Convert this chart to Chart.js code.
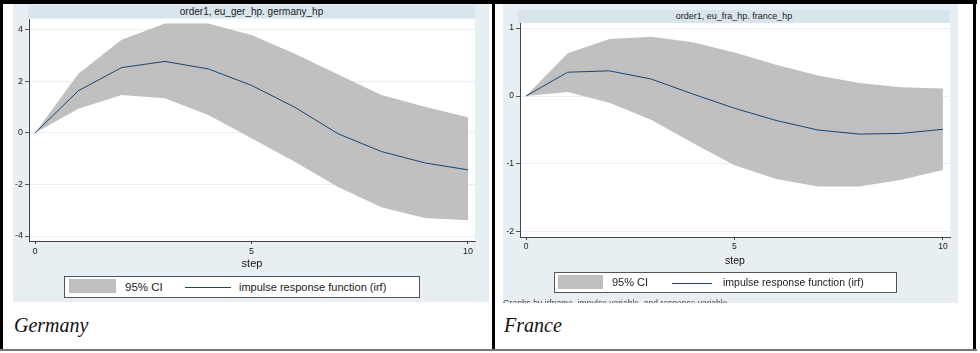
<!DOCTYPE html>
<html>
<head>
<meta charset="utf-8">
<script src="https://cdn.jsdelivr.net/npm/chart.js@4.4.0/dist/chart.umd.min.js"></script>
<style>
  html, body { margin: 0; padding: 0; background: #fff; }
  body { width: 980px; height: 353px; position: relative; overflow: hidden; font-family: Arial, "Liberation Sans", sans-serif; }
  .abs { position: absolute; }
  .bar { background: #000; }
  .panel { background: #e8eff2; }
  .titlebar { background: #d9e5ec; color: #222; text-align: center; white-space: nowrap; }
  .legend { background: #fff; border: 1px solid #555; box-sizing: border-box; }
  .legend span { position: absolute; white-space: nowrap; color: #222; }
  .key { background: #bfbfbf; }
  .keyline { background: #1a476f; height: 1px; }
  .caption { font-family: "Liberation Serif", "DejaVu Serif", serif; font-style: italic; font-size: 20px; color: #111; white-space: nowrap; }
  .note { overflow: hidden; color: #444; font-size: 8.5px; line-height: 10px; white-space: nowrap; }
</style>
</head>
<body>
<!-- table borders -->
<div class="abs bar" style="left:0;top:0;width:977px;height:4px"></div>
<div class="abs bar" style="left:0;top:0;width:3px;height:350px"></div>
<div class="abs bar" style="left:492px;top:0;width:3px;height:350px"></div>
<div class="abs bar" style="left:973px;top:0;width:3px;height:350px"></div>
<div class="abs" style="left:0;top:349px;width:977px;height:2px;background:#777"></div>

<!-- Germany -->
<div class="abs panel" style="left:13px;top:4px;width:476px;height:298px">
  <canvas id="ger" width="476" height="298"></canvas>
</div>
<div class="abs titlebar" style="left:28px;top:5px;width:447px;height:13px;font-size:10px;line-height:13px">order1, eu_ger_hp. germany_hp</div>
<div class="abs legend" style="left:64px;top:276px;width:356px;height:22px">
  <div class="abs key" style="left:4px;top:2px;width:47px;height:14px"></div>
  <span style="left:60px;top:3px;font-size:11.5px;line-height:14px">95% CI</span>
  <div class="abs keyline" style="left:120px;top:10px;width:46px"></div>
  <span style="left:174px;top:3px;font-size:11px;line-height:14px">impulse response function (irf)</span>
</div>
<div class="abs caption" style="left:14px;top:314px">Germany</div>

<!-- France -->
<div class="abs panel" style="left:503px;top:4px;width:455px;height:299px">
  <canvas id="fra" width="455" height="298"></canvas>
</div>
<div class="abs titlebar" style="left:518px;top:10px;width:432px;height:13px;font-size:9px;line-height:13px">order1, eu_fra_hp. france_hp</div>
<div class="abs legend" style="left:554px;top:272px;width:343px;height:21px">
  <div class="abs key" style="left:3px;top:2px;width:45px;height:14px"></div>
  <span style="left:57px;top:3px;font-size:11px;line-height:13px">95% CI</span>
  <div class="abs keyline" style="left:117px;top:10px;width:40px"></div>
  <span style="left:168px;top:3px;font-size:10.5px;line-height:13px">impulse response function (irf)</span>
</div>
<div class="abs note" style="left:503px;top:298px;width:300px;height:5px">Graphs by irfname, impulse variable, and response variable</div>
<div class="abs caption" style="left:504px;top:314px">France</div>

<script>
// steps of the impulse response
const steps = [0, 1, 2, 3, 4, 5, 6, 7, 8, 9, 10];
const xTicks = [0, 5, 10];

// Germany: order1, eu_ger_hp -> germany_hp
const gerIrf = [0, 1.64, 2.54, 2.78, 2.49, 1.85, 1.0, -0.03, -0.72, -1.16, -1.43];
const gerUpper = [0, 2.3, 3.62, 4.25, 4.25, 3.81, 3.08, 2.27, 1.48, 1.02, 0.61];
const gerLower = [0, 0.94, 1.48, 1.35, 0.7, -0.2, -1.12, -2.1, -2.88, -3.3, -3.39];
const gerYTicks = [-4, -2, 0, 2, 4];

// France: order1, eu_fra_hp -> france_hp
const fraIrf = [0, 0.35, 0.37, 0.25, 0.03, -0.18, -0.36, -0.5, -0.56, -0.55, -0.49];
const fraUpper = [0, 0.63, 0.84, 0.87, 0.79, 0.64, 0.46, 0.3, 0.19, 0.13, 0.11];
const fraLower = [0, 0.06, -0.1, -0.35, -0.69, -1.02, -1.22, -1.33, -1.33, -1.23, -1.09];
const fraYTicks = [-2, -1, 0, 1];

const pts = (ys) => steps.map((s, i) => ({ x: s, y: ys[i] }));

// white plot region, like Stata's plotregion
const plotBg = {
  id: 'plotBg',
  beforeDraw(chart) {
    const { ctx, chartArea: a } = chart;
    ctx.save();
    ctx.fillStyle = '#fff';
    ctx.fillRect(a.left, a.top, a.right - a.left, a.bottom - a.top);
    ctx.restore();
  }
};

function irfChart(id, irf, lower, upper, yTicks, o) {
  const tickFont = { family: 'Arial, "Liberation Sans", sans-serif', size: o.tickSize };
  return new Chart(document.getElementById(id), {
    type: 'line',
    data: {
      datasets: [
        { data: pts(irf), borderColor: '#1a476f', borderWidth: 1, pointRadius: 0, fill: false },
        { data: pts(lower), borderWidth: 0, borderColor: 'rgba(0,0,0,0)', pointRadius: 0, fill: false },
        { data: pts(upper), borderWidth: 0, borderColor: 'rgba(0,0,0,0)', pointRadius: 0, fill: '-1', backgroundColor: '#c0c0c0' }
      ]
    },
    options: {
      responsive: false,
      animation: false,
      devicePixelRatio: 1,
      layout: { padding: o.pad },
      plugins: { legend: { display: false }, tooltip: { enabled: false } },
      scales: {
        x: {
          type: 'linear',
          min: o.xMin, max: o.xMax,
          afterBuildTicks: (s) => { s.ticks = xTicks.map(v => ({ value: v })); },
          afterFit: (s) => { s.height = 31; },
          grid: { drawOnChartArea: false, tickLength: 3, tickColor: '#444' },
          border: { color: '#444', width: 1 },
          ticks: { font: tickFont, color: '#222', padding: 2, maxRotation: 0 },
          title: { display: true, text: 'step', color: '#111', font: { family: 'Arial, "Liberation Sans", sans-serif', size: o.titleSize }, padding: { top: 0, bottom: 1 } }
        },
        y: {
          min: o.yMin, max: o.yMax,
          afterBuildTicks: (s) => { s.ticks = yTicks.map(v => ({ value: v })); },
          afterFit: (s) => { s.width = o.yWidth; },
          grid: { color: '#eaf0f2', tickLength: 4, tickColor: '#555' },
          border: { color: '#444', width: 1 },
          ticks: { font: tickFont, color: '#222', padding: 2 }
        }
      }
    },
    plugins: [plotBg]
  });
}

irfChart('ger', gerIrf, gerLower, gerUpper, gerYTicks, {
  xMin: -0.139, xMax: 10.162, yMin: -4.194, yMax: 4.427,
  yWidth: 16, tickSize: 9, titleSize: 11,
  pad: { top: 15, right: 14, bottom: 30, left: 0 }
});

irfChart('fra', fraIrf, fraLower, fraUpper, fraYTicks, {
  xMin: -0.144, xMax: 10.17, yMin: -2.074, yMax: 1.074,
  yWidth: 17, tickSize: 8.5, titleSize: 10.5,
  pad: { top: 19, right: 8, bottom: 34, left: 0 }
});
</script>
</body>
</html>
